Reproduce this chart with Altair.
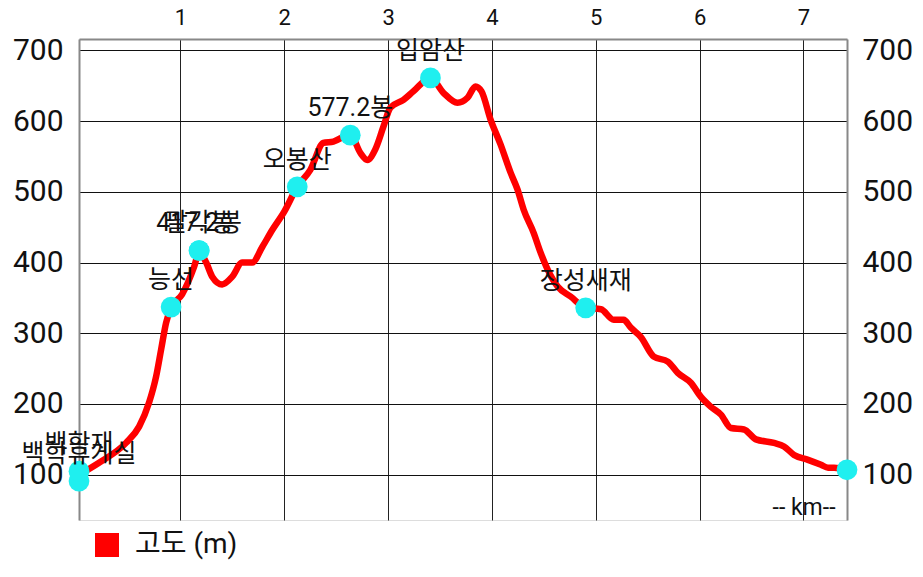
import altair as alt
import pandas as pd

# elevation profile (distance km, elevation m)
dist_km = [0.023, 0.216, 0.476, 0.602, 0.698, 0.766, 0.814, 0.862, 0.910, 1.016,
           1.132, 1.180, 1.248, 1.306, 1.402, 1.499, 1.595, 1.691, 1.788, 1.884,
           2.000, 2.125, 2.251, 2.376, 2.473, 2.636, 2.733, 2.800, 2.877, 2.955,
           3.022, 3.148, 3.244, 3.408, 3.533, 3.668, 3.765, 3.842, 3.900, 3.987,
           4.083, 4.180, 4.247, 4.305, 4.402, 4.469, 4.537, 4.633, 4.758, 4.903,
           5.050, 5.173, 5.269, 5.337, 5.433, 5.559, 5.694, 5.790, 5.916, 6.013,
           6.109, 6.206, 6.302, 6.428, 6.543, 6.717, 6.813, 6.910, 7.045, 7.170,
           7.238, 7.296, 7.420]
elev_m = [100, 117, 145, 168, 202, 239, 277, 315, 336, 355,
          394, 415, 400, 380, 369, 380, 400, 400, 422, 446,
          472, 507, 531, 569, 571, 581, 555, 545, 560, 592,
          619, 630, 642, 661, 640, 626, 633, 649, 642, 602,
          567, 527, 503, 475, 442, 414, 390, 366, 352, 336,
          334, 319, 319, 308, 295, 267, 260, 244, 230, 210,
          196, 185, 166, 164, 150, 145, 140, 128, 121, 114,
          110, 110, 107]

# waypoints
wpt_names = ["백학휴게실", "백학재", "능선", "417.2봉", "팔각봉", "오봉산",
             "577.2봉", "입암산", "장성새재", ""]
wpt_km = [0.023, 0.023, 0.910, 1.180, 1.180, 2.125, 2.636, 3.408, 4.903, 7.420]
wpt_m = [91, 105, 337, 417, 417, 507, 580, 661, 336, 107]

x_ticks = [1, 2, 3, 4, 5, 6, 7]
y_ticks = [100, 200, 300, 400, 500, 600, 700]
series_name = "고도 (m)"

FONT = "Roboto, 'Noto Sans CJK KR', sans-serif"

profile = pd.DataFrame({"km": dist_km, "m": elev_m, "series": series_name})
wpts = pd.DataFrame({"km": wpt_km, "m": wpt_m, "name": wpt_names})

xs = alt.Scale(domain=[0.023, 7.42], nice=False, zero=False)
ys = alt.Scale(domain=[36, 716], nice=False, zero=False)

line = alt.Chart(profile).mark_line(
    strokeWidth=6.5, interpolate="monotone"
).encode(
    x=alt.X("km:Q", scale=xs, axis=alt.Axis(
        orient="top", values=x_ticks, ticks=False, tickSize=0, labelFontSize=22,
        labelPadding=10, labelColor="#111", labelFont=FONT, title=None,
        grid=True, gridColor="#222", gridWidth=1, domainColor="#888", domainWidth=2,
        format="d")),
    y=alt.Y("m:Q", scale=ys, axis=alt.Axis(
        orient="left", values=y_ticks, ticks=False, tickSize=0, labelFontSize=30,
        labelPadding=16, labelColor="#111", labelFont=FONT, title=None,
        grid=True, gridColor="#111", gridWidth=1.2, domainColor="#888", domainWidth=2)),
    color=alt.Color("series:N", scale=alt.Scale(domain=[series_name], range=["#ff0000"]),
                    legend=alt.Legend(title=None, orient="none", legendX=14, legendY=492,
                                      symbolType="square", symbolSize=576,
                                      symbolFillColor="#ff0000", symbolStrokeColor="#ff0000",
                                      symbolStrokeWidth=0,
                                      labelFontSize=28, labelFont=FONT, labelColor="#111",
                                      labelOffset=14, padding=0)),
)

pts = alt.Chart(wpts).mark_circle(size=430, opacity=1, color="#1FEFEF").encode(
    x=alt.X("km:Q", scale=xs, axis=alt.Axis(
        orient="bottom", labels=False, ticks=False, domain=False, grid=False,
        title="-- km--", titleFontSize=23, titleFontWeight="normal", titleFont=FONT,
        titleColor="#111", titleAnchor="end", titleAlign="right",
        titleBaseline="alphabetic", titleX=756, titleY=-6)),
    y=alt.Y("m:Q", scale=ys, axis=alt.Axis(
        orient="right", values=y_ticks, ticks=False, tickSize=0, labelFontSize=30,
        labelPadding=15, labelColor="#111", labelFont=FONT, title=None, grid=False,
        domainColor="#888", domainWidth=2)),
)

labels = alt.Chart(wpts).mark_text(
    fontSize=25, font=FONT, color="#111", baseline="alphabetic", dy=-19, align="center"
).encode(
    x=alt.X("km:Q", scale=xs, axis=None),
    y=alt.Y("m:Q", scale=ys, axis=None),
    text="name:N",
)

chart = alt.layer(line, pts, labels).resolve_axis(
    x="independent", y="independent"
).properties(
    width=768, height=481,
    autosize=alt.AutoSizeParams(type="none"),
    padding={"left": 71, "top": 31, "right": 68, "bottom": 49},
).configure_view(stroke=None).configure(background="white")

chart.save("out.html", embed_options={"renderer": "svg", "actions": False})
